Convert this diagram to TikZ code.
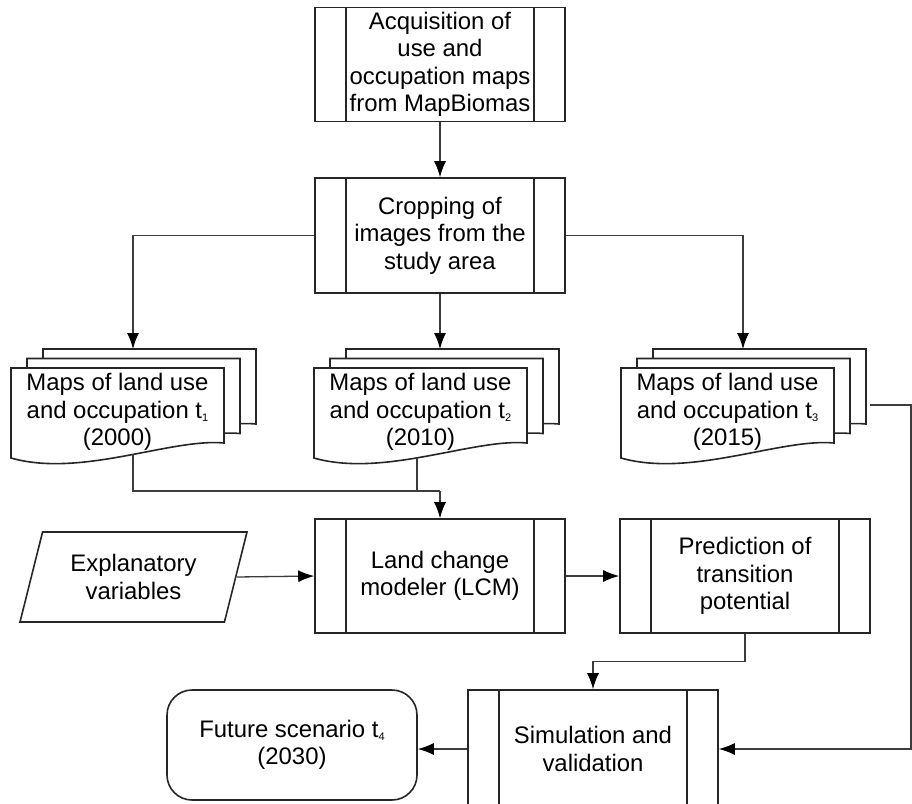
\documentclass[tikz,border=0pt]{standalone}
\usepackage{fontspec}
\setmainfont{Liberation Sans}
\usetikzlibrary{arrows.meta,shapes.geometric}
\definecolor{boxline}{HTML}{262626}
\definecolor{connline}{HTML}{3C3C3C}
\tikzset{%
  proc/.style={rectangle, draw=boxline, line width=1.6pt, fill=white,
    minimum width=250pt, minimum height=114pt, inner sep=0pt, align=center,
    path picture={
      \draw[boxline, line width=1.6pt]
        ([xshift=31pt]path picture bounding box.north west) --
        ([xshift=31pt]path picture bounding box.south west)
        ([xshift=-31pt]path picture bounding box.north east) --
        ([xshift=-31pt]path picture bounding box.south east);
    }},
  sheet/.style={draw=boxline, line width=1.6pt, fill=white},
  maptext/.style={inner sep=0pt, align=center},
  conn/.style={draw=connline, line width=1.3pt,
    -{Latex[length=16pt,width=12pt,color=black]}},
  wire/.style={draw=connline, line width=1.3pt},
}
% raised-down small index as printed (t1, t2, ...)
\newcommand\idx[1]{\raisebox{-3pt}{\fontsize{11}{11}\selectfont #1}}
% one stack of three map sheets; #1 name, #2 left x of the front sheet, #3 text
\newcommand\mapstack[3]{%
  \foreach \d/\e in {32/19,16/9.5,0/0}{
    \begin{scope}[shift={(#2+\d,368-\e)}]
      \draw[sheet] (0,0) -- (213,0) -- (213,75)
        .. controls (160,70) and (70,110) .. (0,90) -- cycle;
    \end{scope}
  }
  \node[maptext] (#1) at (#2+106.5,412) {#3};
  \coordinate (#1top) at (#2+122,349);
  \coordinate (#1side) at (#2+249,405);
}

\begin{document}
\begin{tikzpicture}[x=1pt, y=-1pt, font=\fontsize{23.9}{27.5}\selectfont]
  \useasboundingbox[fill=white] (0,0) rectangle (912,803);

  % processing chain
  \node[proc] (acq) at (440,64.5) {Acquisition of\\use and\\occupation maps\\from MapBiomas};
  \node[proc, minimum height=115pt] (crop) at (440,235.5) {Cropping of\\images from the\\study area};

  % map sheets
  \mapstack{m1}{11}{Maps of land use\\and occupation t\idx{1}\\(2000)}
  \mapstack{m2}{314}{Maps of land use\\and occupation t\idx{2}\\(2010)}
  \mapstack{m3}{621}{Maps of land use\\and occupation t\idx{3}\\(2015)}
  \coordinate (m1bot) at (133,454);
  \coordinate (m2bot) at (417,458);
  \coordinate (jn) at (440,491);

  \node[proc] (land) at (440,576) {Land change\\modeler (LCM)};
  \node[proc] (pred) at (745,576) {Prediction of\\transition\\potential};
  \node[trapezium, trapezium left angle=63.4, trapezium right angle=116.6,
        trapezium stretches body, draw=boxline, line width=1.6pt,
        minimum width=227pt, minimum height=90pt, inner sep=0pt, align=center]
        (expl) at (133.5,577) {Explanatory\\variables};
  \node[proc, minimum height=118pt] (sim) at (593,749) {Simulation and\\validation};
  \node[rectangle, rounded corners=25pt, draw=boxline, line width=1.6pt,
        minimum width=250pt, minimum height=110pt, align=center, inner sep=0pt]
        (fut) at (292,745) {Future scenario t\idx{4}\\(2030)};
  \coordinate (rt) at (911,405);

  % connectors
  \draw[conn] (acq) -- (crop);
  \draw[conn] (crop.west) -| (m1top);
  \draw[conn] (crop.south) -- (crop.south |- m2top);
  \draw[conn] (crop.east) -| (m3top);
  \draw[wire] (m1bot) |- (jn);
  \draw[wire] (m2bot) |- (jn);
  \draw[conn] (jn) -- (land);
  \draw[conn] (expl.east) -- (land.west);
  \draw[conn] (land.east) -- (pred.west);
  \draw[conn] (pred.south) -- ++(0,28) -| (sim.north);
  \draw[conn] (m3side) -- (rt) |- (sim.east);
  \draw[conn] (sim.west) -- (sim.west -| fut.east);
\end{tikzpicture}
\end{document}
